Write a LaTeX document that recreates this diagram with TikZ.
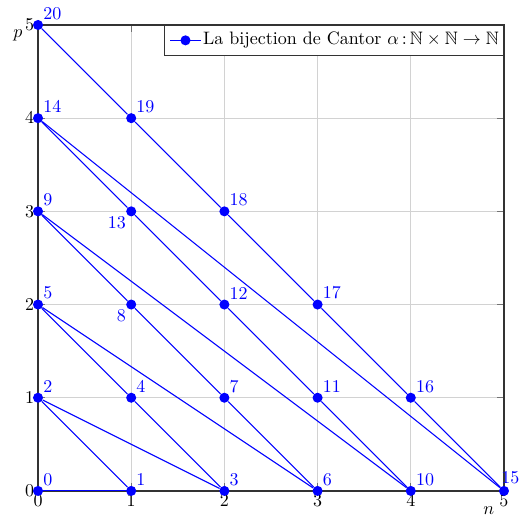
\documentclass[tikz,border=0pt]{standalone}
\usepackage{amsmath,amssymb}
\usetikzlibrary{calc}
\definecolor{gridgray}{RGB}{210,210,210}
\tikzset{
    grille/.style={draw=gridgray, line width=0.5pt},
    graduation/.style={draw=black!55, line width=0.5pt},
    cadre/.style={draw=black!80, line width=0.7pt},
    chemin/.style={draw=blue, line width=0.6pt},
    sommet/.style={circle, fill=blue, inner sep=0pt, minimum size=5.6pt},
    etiquette/.style={text=blue, inner sep=0.6pt},
    legende/.style={draw=black!80, line width=0.6pt, fill=white, minimum height=16.5pt, inner xsep=2.5pt}
}

\begin{document}
\begin{tikzpicture}[x=1.82cm, y=1.82cm]
    \useasboundingbox (-0.408,-0.300) rectangle (5.172,5.268);
    % grille et graduations
    \foreach \i in {1,...,4} {
        \draw[grille] (\i,0) -- (\i,5);
        \draw[grille] (0,\i) -- (5,\i);
    }
    \foreach \i in {1,...,4} {
        \draw[graduation] (\i,0) -- ++(0,0.08);
        \draw[graduation] (\i,5) -- ++(0,-0.08);
        \draw[graduation] (0,\i) -- ++(0.08,0);
        \draw[graduation] (5,\i) -- ++(-0.08,0);
    }
    \draw[cadre] (0,0) rectangle (5,5);
    % valeurs sur les axes
    \foreach \i in {0,...,5} {
        \node[below, inner sep=2pt] (xt\i) at (\i,0) {$\i$};
        \node[left, inner sep=2pt] (yt\i) at (0,\i) {$\i$};
    }
    \node[anchor=north east, inner sep=0pt, xshift=-0.5pt, yshift=2pt] (nlab) at (xt5.south west) {$n$};
    \node[anchor=base east, inner sep=0pt] (plab) at ($(yt5.base west)+(1pt,-4pt)$) {$p$};
    % les points de la bijection
    \foreach \k/\n/\p/\pos/\dx in {0/0/0/above right/0, 1/1/0/above right/0, 2/0/1/above right/0,
        3/2/0/above right/0, 4/1/1/above right/0, 5/0/2/above right/0, 6/3/0/above right/0,
        7/2/1/above right/0, 8/1/2/below left/0, 9/0/3/above right/0, 10/4/0/above right/0,
        11/3/1/above right/0, 12/2/2/above right/0, 13/1/3/below left/0, 14/0/4/above right/0,
        15/5/0/above/3.5, 16/4/1/above right/0, 17/3/2/above right/0, 18/2/3/above right/0,
        19/1/4/above right/0, 20/0/5/above right/0}
        \node[sommet, label={[etiquette, xshift=\dx pt]\pos:\k}] (s\k) at (\n,\p) {};
    \foreach \a [remember=\a as \b (initially 0)] in {1,...,20}
        \draw[chemin] (s\b) -- (s\a);
    % legende
    \node[legende, anchor=north east] (leg) at (5,5)
        {\hspace*{19pt}La bijection de Cantor $\alpha\,{:}\,\mathbb{N}\times\mathbb{N}\to\mathbb{N}$};
    \coordinate (legA) at ($(leg.west)+(3.5pt,0)$);
    \coordinate (legB) at ($(legA)+(17pt,0)$);
    \draw[chemin] (legA) -- (legB) node[midway, sommet] (legS) {};
\end{tikzpicture}
\end{document}
